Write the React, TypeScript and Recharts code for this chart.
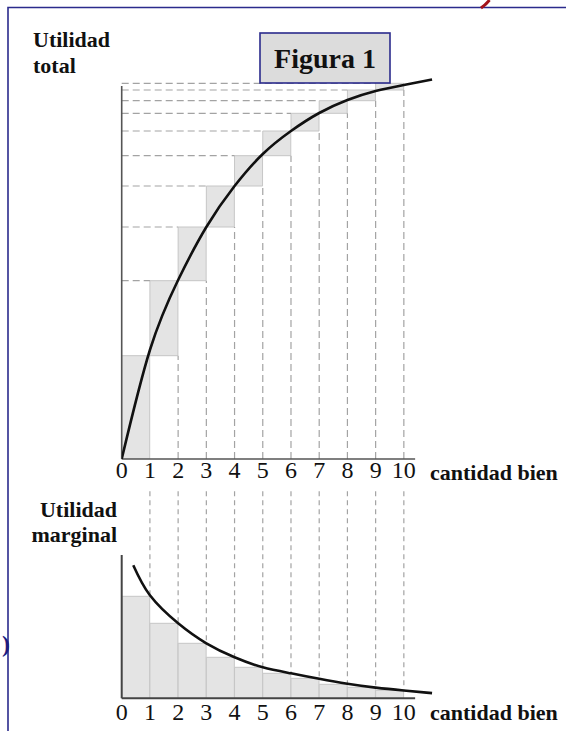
import React from 'react';
import { ComposedChart, Bar, Line, XAxis, YAxis, ReferenceLine } from 'recharts';

// ---- data ----
const QUANTITIES = [0, 1, 2, 3, 4, 5, 6, 7, 8, 9, 10];
const TOTAL_UTILITY = [0, 10.33, 17.83, 23.2, 27.3, 30.33, 32.8, 34.57, 35.83, 36.9, 37.57];
const TOTAL_CURVE_X = [0, 1, 2, 3, 4, 5, 6, 7, 8, 9, 10, 11];
const TOTAL_CURVE_Y = [0, 10.9, 17.9, 23.2, 27.3, 30.5, 32.8, 34.6, 35.9, 36.8, 37.4, 37.95];
const MARGINAL_UTILITY = [10.2, 7.5, 5.5, 4.1, 3.1, 2.5, 2.0, 1.4, 1.1, 0.8];
const MARGINAL_CURVE_X = [0.41, 1, 2, 3, 4, 5, 6, 7, 8, 9, 10, 11];
const MARGINAL_CURVE_Y = [13.3, 10.3, 7.5, 5.5, 4.1, 3.1, 2.5, 1.95, 1.45, 1.07, 0.78, 0.52];
const X_TICKS = QUANTITIES;
const X_LABEL = 'cantidad bien';
const TITLE = 'Figura 1';

// ---- layout constants ----
const X_DOMAIN: [number, number] = [0, 11.2];
const X_AXIS_END = 10.4;
const TOP_Y_DOMAIN: [number, number] = [0, 40];
const TOP_Y_AXIS_END = 37.3;
const LOW_Y_DOMAIN: [number, number] = [0, 21];
const LOW_Y_AXIS_END = 14.33;
const LOW_DASH_TOP = 20.7;
const SERIF = '"Liberation Serif", "Times New Roman", serif';
const NAVY = '#2b2b8c';
const DASH = '#a3a3a3';
const BAR_FILL = '#e4e4e4';
const BAR_STROKE = '#c6c6c6';

const topBars = QUANTITIES.slice(1).map((q, i) => ({
  x: q - 0.5,
  range: [TOTAL_UTILITY[i], TOTAL_UTILITY[i + 1]],
}));
const topCurve = TOTAL_CURVE_X.map((x, i) => ({ x, y: TOTAL_CURVE_Y[i] }));
const lowBars = QUANTITIES.slice(1).map((q, i) => ({ x: q - 0.5, v: MARGINAL_UTILITY[i] }));
const lowCurve = MARGINAL_CURVE_X.map((x, i) => ({ x, y: MARGINAL_CURVE_Y[i] }));

const tickStyle = { fill: '#111', fontSize: 24, fontFamily: SERIF };
const labelStyle: React.CSSProperties = { fontFamily: SERIF, fontWeight: 'bold', fontSize: 22, fill: '#111' };

function TopChart() {
  return (
    <ComposedChart
      width={566}
      height={520}
      data={topBars}
      margin={{ top: 59, left: 121.7, right: 128.3, bottom: 21 }}
    >
      <XAxis
        xAxisId={0}
        dataKey="x"
        type="number"
        domain={X_DOMAIN}
        allowDataOverflow
        ticks={X_TICKS}
        interval={0}
        tickLine={false}
        axisLine={false}
        tickSize={0}
        tickMargin={2}
        height={40}
        tick={tickStyle}
      />
      <XAxis xAxisId="c" dataKey="x" type="number" domain={X_DOMAIN} allowDataOverflow hide />
      <YAxis type="number" domain={TOP_Y_DOMAIN} allowDataOverflow hide />
      {QUANTITIES.slice(2).map((q) => (
        <ReferenceLine
          key={'h' + q}
          segment={[{ x: 0, y: TOTAL_UTILITY[q] }, { x: q - 1, y: TOTAL_UTILITY[q] }]}
          stroke={DASH}
          strokeWidth={1.2}
          strokeDasharray="7 4"
        />
      ))}
      {QUANTITIES.slice(2).map((q) => (
        <ReferenceLine
          key={'v' + q}
          segment={[{ x: q, y: 0 }, { x: q, y: TOTAL_UTILITY[q - 1] }]}
          stroke={DASH}
          strokeWidth={1.2}
          strokeDasharray="7 4"
        />
      ))}
      <Bar
        dataKey="range"
        barSize={28}
        fill={BAR_FILL}
        stroke={BAR_STROKE}
        strokeWidth={1}
        isAnimationActive={false}
      />
      <ReferenceLine segment={[{ x: 0, y: 0 }, { x: X_AXIS_END, y: 0 }]} stroke="#555" strokeWidth={1.6} />
      <ReferenceLine segment={[{ x: 0, y: 0 }, { x: 0, y: TOP_Y_AXIS_END }]} stroke="#555" strokeWidth={1.6} />
      <Line
        xAxisId="c"
        data={topCurve}
        dataKey="y"
        type="natural"
        stroke="#111"
        strokeWidth={2.6}
        dot={false}
        isAnimationActive={false}
      />
    </ComposedChart>
  );
}

function LowChart() {
  return (
    <ComposedChart
      width={566}
      height={261}
      data={lowBars}
      margin={{ top: 18.3, left: 121.7, right: 128.3, bottom: 2.7 }}
    >
      <XAxis
        xAxisId={0}
        dataKey="x"
        type="number"
        domain={X_DOMAIN}
        allowDataOverflow
        ticks={X_TICKS}
        interval={0}
        tickLine={false}
        axisLine={false}
        tickSize={0}
        tickMargin={5}
        height={30}
        tick={tickStyle}
      />
      <XAxis xAxisId="c" dataKey="x" type="number" domain={X_DOMAIN} allowDataOverflow hide />
      <YAxis type="number" domain={LOW_Y_DOMAIN} allowDataOverflow hide />
      {QUANTITIES.slice(1).map((q) => (
        <ReferenceLine
          key={'lv' + q}
          segment={[{ x: q, y: LOW_DASH_TOP }, { x: q, y: MARGINAL_UTILITY[q - 1] }]}
          stroke={DASH}
          strokeWidth={1.2}
          strokeDasharray="5 4"
        />
      ))}
      <Bar
        dataKey="v"
        barSize={28}
        fill={BAR_FILL}
        stroke={BAR_STROKE}
        strokeWidth={1}
        isAnimationActive={false}
      />
      <ReferenceLine segment={[{ x: 0, y: 0 }, { x: X_AXIS_END, y: 0 }]} stroke="#444" strokeWidth={2} />
      <ReferenceLine segment={[{ x: 0, y: 0 }, { x: 0, y: LOW_Y_AXIS_END }]} stroke="#444" strokeWidth={2} />
      <Line
        xAxisId="c"
        data={lowCurve}
        dataKey="y"
        type="natural"
        stroke="#111"
        strokeWidth={2.6}
        dot={false}
        isAnimationActive={false}
      />
    </ComposedChart>
  );
}

export default function App() {
  return (
    <div
      style={{
        position: 'absolute',
        left: 0,
        top: 0,
        width: 566,
        height: 731,
        overflow: 'hidden',
        background: '#fff',
      }}
    >
      <div style={{ position: 'absolute', left: 0, top: 0 }}>
        <TopChart />
      </div>
      <div style={{ position: 'absolute', left: 0, top: 470 }}>
        <LowChart />
      </div>
      <svg
        width={566}
        height={731}
        style={{ position: 'absolute', left: 0, top: 0, pointerEvents: 'none' }}
      >
        <path d="M8,731 L8,7.5 L566,7.5" fill="none" stroke={NAVY} strokeWidth={1.6} />
        <path d="M481,8 Q486,4.5 489.5,0" fill="none" stroke="#a3121a" strokeWidth={3} />
        <text x={33} y={47} style={labelStyle}>Utilidad</text>
        <text x={33} y={73} style={labelStyle}>total</text>
        <rect x={260} y={33} width={130} height={50} fill="#dcdcdc" stroke={NAVY} strokeWidth={1.6} />
        <text x={325} y={68} textAnchor="middle" style={{ ...labelStyle, fontSize: 28 }}>{TITLE}</text>
        <text x={430} y={480} style={labelStyle}>{X_LABEL}</text>
        <text x={430} y={720} style={labelStyle}>{X_LABEL}</text>
        <text x={117} y={517} textAnchor="end" style={labelStyle}>Utilidad</text>
        <text x={117} y={542} textAnchor="end" style={labelStyle}>marginal</text>
        <text x={10} y={652} textAnchor="end" style={{ fontFamily: SERIF, fontWeight: 'bold', fontSize: 24, fill: '#1c1c80' }}>)</text>
      </svg>
    </div>
  );
}
